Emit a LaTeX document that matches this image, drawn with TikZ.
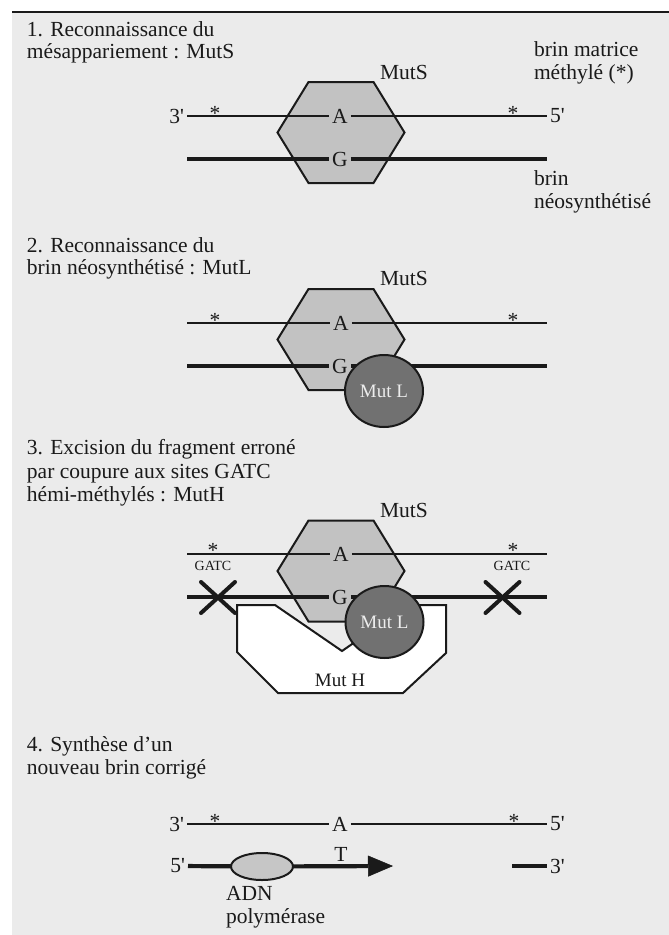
\documentclass[tikz,border=0pt]{standalone}
\usepackage{fontspec}
\newfontfamily\rmf{Liberation Serif}
\usetikzlibrary{arrows.meta,shapes.geometric}
\definecolor{bgc}{HTML}{EBEBEB}
\definecolor{hexc}{HTML}{C2C2C2}
\definecolor{mutlc}{HTML}{717171}
\definecolor{polc}{HTML}{C6C6C6}
\definecolor{inkc}{HTML}{1A1A1A}
\definecolor{mutltxt}{HTML}{EDEDED}
\newcommand\mystarglyph{\raisebox{0pt}[0pt][0pt]{*}}
\begin{document}
\begin{tikzpicture}[x=1pt,y=-1pt,
  every node/.style={inner sep=0pt,outer sep=0pt,text=inkc},
  txt/.style={font=\rmf\fontsize{21.5}{23}\selectfont},
  tl/.style={txt,anchor=base west},
  small/.style={font=\rmf\fontsize{14}{15}\selectfont},
  gap/.style={inner xsep=3pt},
  star/.style={txt,anchor=base},
  thinstrand/.style={line width=1.5pt,draw=inkc},
  thickstrand/.style={line width=4.2pt,draw=inkc},
  hexstyle/.style={draw=inkc,fill=hexc,line width=2pt,line join=miter},
  mutlstyle/.style={ellipse,draw=inkc,fill=mutlc,line width=2pt,minimum width=78pt,minimum height=72pt,text=mutltxt,font=\rmf\fontsize{19}{20}\selectfont},
  muthstyle/.style={draw=inkc,fill=white,line width=2pt,line join=miter},
  polstyle/.style={ellipse,draw=inkc,fill=polc,line width=2pt,minimum width=62pt,minimum height=27pt},
  xmk/.style={line width=4pt,draw=inkc,line cap=round},
  hexa/.pic={\path[hexstyle] (-63.5,0) -- (-32.5,-50.5) -- (32.5,-50.5) -- (63.5,0) -- (32.5,50.5) -- (-32.5,50.5) -- cycle;},
  xcross/.pic={\draw[xmk] (-17,-15.5) -- (17,15.5); \draw[xmk] (-17,15.5) -- (17,-15.5);}
]
\useasboundingbox (0,0) rectangle (669,935);
\path[fill=bgc] (12,12) rectangle (669,935);
\draw[line width=1.5pt,draw=inkc] (12,12) -- (669,12);

% ---------- Panel 1 ----------
\node[tl] (t1a) at (27,36) {1. Reconnaissance du};
\node[tl] (t1b) at (27,58) {mésappariement : MutS};
\node[tl] (m1a) at (534,56) {brin matrice};
\node[tl] (m1b) at (534,79) {méthylé (*)};
\node[tl] (n1a) at (534,185) {brin};
\node[tl] (n1b) at (534,208) {néosynthétisé};
\pic at (341,132.5) {hexa};
\node[txt] (s1) at (404,72) {MutS};
\node[txt,gap,anchor=east] (l1) at (187,116) {3'};
\node[txt,gap,anchor=west] (r1) at (547,116) {5'};
\node[txt,gap] (a1) at (340,116) {A};
\node[txt,gap] (g1) at (340,159) {G};
\node[star] (st1l) at (215,120.5) {\mystarglyph};
\node[star] (st1r) at (513,120.5) {\mystarglyph};
\coordinate (b1l) at (187,159);
\coordinate (b1r) at (547,159);
\draw[thinstrand] (l1) -- (a1);
\draw[thinstrand] (a1) -- (r1);
\draw[thickstrand] (b1l) -- (g1);
\draw[thickstrand] (g1) -- (b1r);

% ---------- Panel 2 ----------
\node[tl] (t2a) at (27,252) {2. Reconnaissance du};
\node[tl] (t2b) at (27,274) {brin néosynthétisé : MutL};
\pic at (341,339.5) {hexa};
\node[txt] (s2) at (404,278) {MutS};
\node[txt,gap] (a2) at (341,323) {A};
\node[txt,gap] (g2) at (340,366) {G};
\node[star] (st2l) at (215,327) {\mystarglyph};
\node[star] (st2r) at (513,327) {\mystarglyph};
\coordinate (t2l) at (187,323);
\coordinate (t2r) at (547,323);
\coordinate (b2l) at (187,366);
\coordinate (b2r) at (547,366);
\draw[thinstrand] (t2l) -- (a2);
\draw[thinstrand] (a2) -- (t2r);
\draw[thickstrand] (b2l) -- (g2);
\draw[thickstrand] (g2) -- (b2r);
\node[mutlstyle] (ml2) at (384,391) {Mut L};

% ---------- Panel 3 ----------
\node[tl] (t3a) at (27,454) {3. Excision du fragment erroné};
\node[tl] (t3b) at (27,478) {par coupure aux sites GATC};
\node[tl] (t3c) at (27,501) {hémi-méthylés : MutH};
\pic at (341,571) {hexa};
\node[txt] (s3) at (404,510) {MutS};
\node[txt,gap] (a3) at (341,554) {A};
\node[txt,gap] (g3) at (340,597) {G};
\node[star] (st3l) at (213,557) {\mystarglyph};
\node[star] (st3r) at (513,557) {\mystarglyph};
\node[small] (gt3l) at (213,565.5) {GATC};
\node[small] (gt3r) at (512,565.5) {GATC};
\coordinate (t3l) at (187,554);
\coordinate (t3r) at (547,554);
\coordinate (b3l) at (187,597);
\coordinate (b3r) at (547,597);
\draw[thinstrand] (t3l) -- (a3);
\draw[thinstrand] (a3) -- (t3r);
\draw[thickstrand] (b3l) -- (g3);
\draw[thickstrand] (g3) -- (b3r);
\path[muthstyle] (237,605) -- (275,605) -- (342,651) -- (384,622) -- (418,605) -- (446,605)
  -- (446,653) -- (403,693) -- (278,693) -- (237,652) -- cycle;
\node[txt,font=\rmf\fontsize{19}{20}\selectfont] (mh3) at (340,680) {Mut H};
\node[mutlstyle] (ml3) at (384.5,622) {Mut L};
\pic at (218,597.5) {xcross};
\pic at (502.5,597.5) {xcross};

% ---------- Panel 4 ----------
\node[tl] (t4a) at (27,751) {4. Synthèse d’un};
\node[tl] (t4b) at (27,774) {nouveau brin corrigé};
\node[txt,gap,anchor=east] (l4) at (187,824) {3'};
\node[txt,gap,anchor=west] (r4) at (547,824) {5'};
\node[txt,gap] (a4) at (340,824) {A};
\node[star] (st4l) at (215,828) {\mystarglyph};
\node[star] (st4r) at (514,828) {\mystarglyph};
\draw[thinstrand] (l4) -- (a4);
\draw[thinstrand] (a4) -- (r4);
\node[txt,gap,anchor=east] (l4b) at (188,866) {5'};
\node[txt,gap,anchor=west] (r4b) at (547,866) {3'};
\node[polstyle] (pol) at (262,866.5) {};
\coordinate (tip4) at (393,866);
\coordinate (seg4) at (512,866);
\draw[thickstrand] (l4b) -- (pol);
\draw[thickstrand,-{Triangle[length=25pt,width=21pt,line width=0.5pt]}] (pol) -- (tip4);
\draw[thickstrand] (seg4) -- (r4b);
\node[txt] (tt4) at (341,854) {T};
\node[tl] (adn1) at (226,900) {ADN};
\node[tl] (adn2) at (226,923) {polymérase};
\end{tikzpicture}
\end{document}
